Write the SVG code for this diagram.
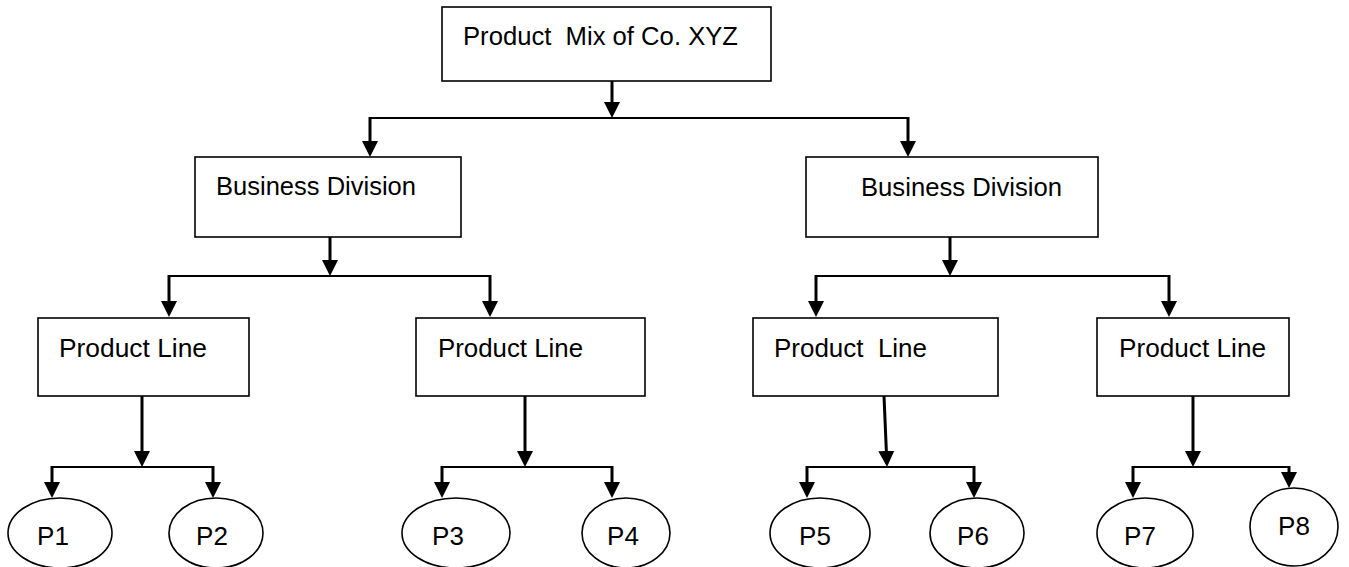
<svg xmlns="http://www.w3.org/2000/svg" width="1349" height="567" viewBox="0 0 1349 567">
<style>
  .box { fill: #ffffff; stroke: #000000; stroke-width: 1.6; }
  .oval { fill: #ffffff; stroke: #000000; stroke-width: 1.6; }
  .lbl { font-family: "Liberation Sans", Arial, sans-serif; font-size: 26px; fill: #000000; }
  .bar { stroke: #000000; stroke-width: 2; fill: none; }
  .stem { stroke: #000000; stroke-width: 3; fill: none; marker-end: url(#ah); }
</style>
<defs>
  <marker id="ah" viewBox="0 0 16 16" refX="6" refY="8" markerWidth="16" markerHeight="16" markerUnits="userSpaceOnUse" orient="auto">
    <path d="M0,0 L16,8 L0,16 z" fill="#000000"/>
  </marker>
</defs>
<rect width="1349" height="567" fill="#ffffff"/>

<g id="connectors">
  <line class="stem" x1="612" y1="81" x2="612" y2="108"/>
  <line class="bar" x1="370" y1="118" x2="908" y2="118"/>
  <line class="stem" x1="370" y1="117" x2="370" y2="147"/>
  <line class="stem" x1="908" y1="117" x2="908" y2="147"/>

  <line class="stem" x1="330" y1="237" x2="330" y2="266"/>
  <line class="bar" x1="169" y1="276" x2="490" y2="276"/>
  <line class="stem" x1="169" y1="275" x2="169" y2="307"/>
  <line class="stem" x1="490" y1="275" x2="490" y2="307"/>

  <line class="stem" x1="950" y1="237" x2="950" y2="266"/>
  <line class="bar" x1="816" y1="276" x2="1169" y2="276"/>
  <line class="stem" x1="816" y1="275" x2="816" y2="307"/>
  <line class="stem" x1="1169" y1="275" x2="1169" y2="307"/>

  <line class="stem" x1="142" y1="396" x2="142" y2="457"/>
  <line class="bar" x1="52" y1="467" x2="213" y2="467"/>
  <line class="stem" x1="52" y1="466" x2="52" y2="488"/>
  <line class="stem" x1="213" y1="466" x2="213" y2="488"/>

  <line class="stem" x1="525" y1="396" x2="525" y2="457"/>
  <line class="bar" x1="442" y1="467" x2="612" y2="467"/>
  <line class="stem" x1="442" y1="466" x2="442" y2="488"/>
  <line class="stem" x1="612" y1="466" x2="612" y2="488"/>

  <line class="stem" x1="884" y1="396" x2="886.6" y2="457"/>
  <line class="bar" x1="807" y1="467" x2="974" y2="467"/>
  <line class="stem" x1="807" y1="466" x2="807" y2="488"/>
  <line class="stem" x1="974" y1="466" x2="974" y2="488"/>

  <line class="stem" x1="1193" y1="396" x2="1193" y2="457"/>
  <line class="bar" x1="1133" y1="467" x2="1289" y2="467"/>
  <line class="stem" x1="1133" y1="466" x2="1133" y2="488"/>
  <line class="stem" x1="1289" y1="466" x2="1289" y2="478"/>
</g>

<g id="top">
  <rect class="box" x="442" y="7" width="329" height="74"/>
  <text class="lbl" x="463" y="45" xml:space="preserve" textLength="275" lengthAdjust="spacingAndGlyphs">Product  Mix of Co. XYZ</text>
</g>

<g id="bd-left">
  <rect class="box" x="195" y="157" width="266" height="80"/>
  <text class="lbl" x="216" y="195" textLength="200" lengthAdjust="spacingAndGlyphs">Business Division</text>
</g>
<g id="bd-right">
  <rect class="box" x="806" y="157" width="292" height="80"/>
  <text class="lbl" x="861" y="196" textLength="201" lengthAdjust="spacingAndGlyphs">Business Division</text>
</g>

<g id="pl-1">
  <rect class="box" x="38" y="318" width="211" height="78"/>
  <text class="lbl" x="59" y="357" textLength="148" lengthAdjust="spacingAndGlyphs">Product Line</text>
</g>
<g id="pl-2">
  <rect class="box" x="416" y="318" width="229" height="78"/>
  <text class="lbl" x="438" y="357" textLength="145" lengthAdjust="spacingAndGlyphs">Product Line</text>
</g>
<g id="pl-3">
  <rect class="box" x="753" y="318" width="245" height="78"/>
  <text class="lbl" x="774" y="357" xml:space="preserve" textLength="153" lengthAdjust="spacingAndGlyphs">Product  Line</text>
</g>
<g id="pl-4">
  <rect class="box" x="1097" y="318" width="192" height="78"/>
  <text class="lbl" x="1119" y="357" textLength="147" lengthAdjust="spacingAndGlyphs">Product Line</text>
</g>

<g id="p1">
  <ellipse class="oval" cx="60" cy="533" rx="52" ry="35"/>
  <text class="lbl" x="53" y="545" text-anchor="middle">P1</text>
</g>
<g id="p2">
  <ellipse class="oval" cx="216" cy="533" rx="47" ry="35"/>
  <text class="lbl" x="212" y="545" text-anchor="middle">P2</text>
</g>
<g id="p3">
  <ellipse class="oval" cx="456" cy="533" rx="54" ry="35"/>
  <text class="lbl" x="448" y="545" text-anchor="middle">P3</text>
</g>
<g id="p4">
  <ellipse class="oval" cx="626" cy="533" rx="44" ry="35"/>
  <text class="lbl" x="623" y="545" text-anchor="middle">P4</text>
</g>
<g id="p5">
  <ellipse class="oval" cx="820" cy="533" rx="50" ry="35"/>
  <text class="lbl" x="815" y="545" text-anchor="middle">P5</text>
</g>
<g id="p6">
  <ellipse class="oval" cx="977" cy="533" rx="47" ry="35"/>
  <text class="lbl" x="973" y="545" text-anchor="middle">P6</text>
</g>
<g id="p7">
  <ellipse class="oval" cx="1145" cy="533" rx="48" ry="35"/>
  <text class="lbl" x="1140" y="545" text-anchor="middle">P7</text>
</g>
<g id="p8">
  <ellipse class="oval" cx="1294" cy="527" rx="44" ry="39"/>
  <text class="lbl" x="1294" y="535" text-anchor="middle">P8</text>
</g>
</svg>
